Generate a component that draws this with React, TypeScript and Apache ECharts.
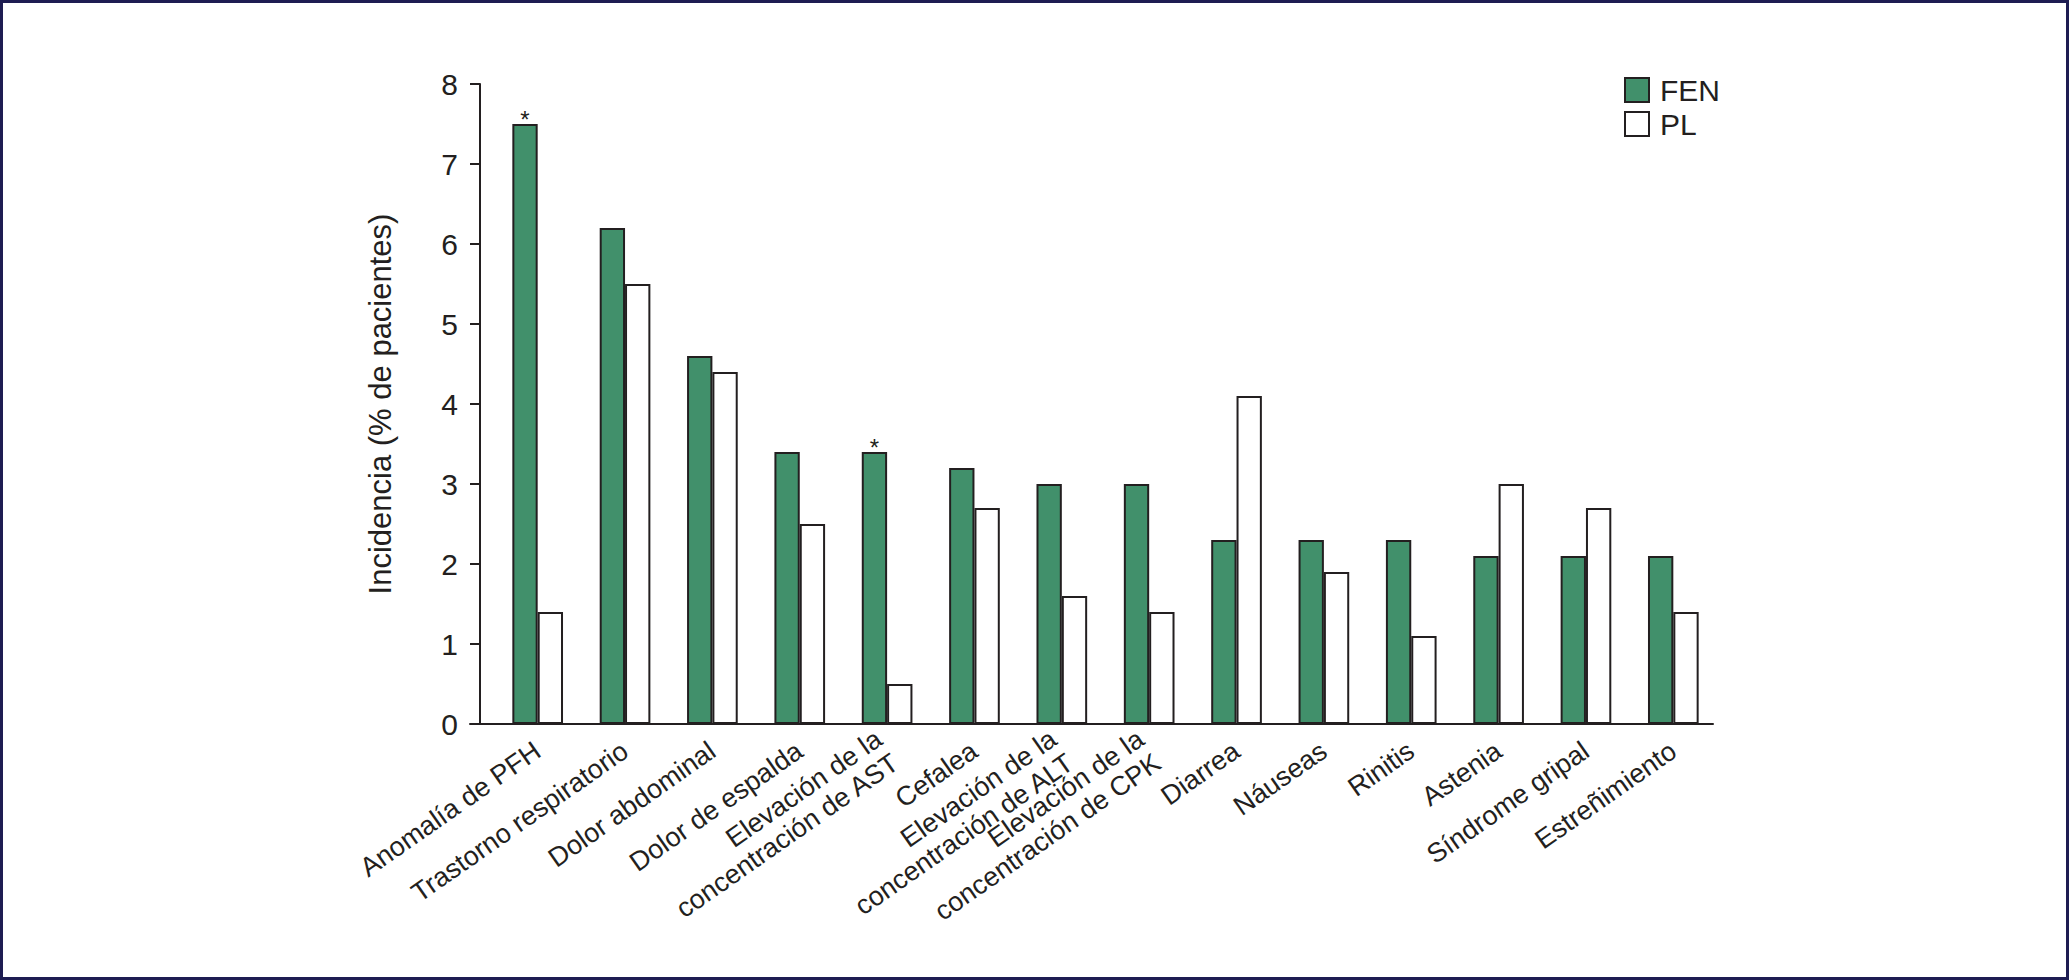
import React, { useEffect, useRef } from "react";
import * as echarts from "echarts";

const categories = [
  "Anomalía de PFH",
  "Trastorno respiratorio",
  "Dolor abdominal",
  "Dolor de espalda",
  "Elevación de la\nconcentración de AST",
  "Cefalea",
  "Elevación de la\nconcentración de ALT",
  "Elevación de la\nconcentración de CPK",
  "Diarrea",
  "Náuseas",
  "Rinitis",
  "Astenia",
  "Síndrome gripal",
  "Estreñimiento",
];
const fenValues = [7.5, 6.2, 4.6, 3.4, 3.4, 3.2, 3.0, 3.0, 2.3, 2.3, 2.3, 2.1, 2.1, 2.1];
const plValues = [1.4, 5.5, 4.4, 2.5, 0.5, 2.7, 1.6, 1.4, 4.1, 1.9, 1.1, 3.0, 2.7, 1.4];
const significant = [true, false, false, false, true, false, false, false, false, false, false, false, false, false];
const yTicks = { min: 0, max: 8, interval: 1 };

const FONT = "'Liberation Sans', Arial, Helvetica, sans-serif";
const INK = "#231f20";
const GREEN = "#41906b";

export default function App() {
  const ref = useRef<HTMLDivElement>(null);
  useEffect(() => {
    if (!ref.current) return;
    const chart = echarts.init(ref.current, null, { renderer: "svg" });
    chart.setOption({
      animation: false,
      backgroundColor: "#ffffff",
      textStyle: { fontFamily: FONT, color: INK },
      graphic: [
        {
          type: "rect",
          shape: { x: 1.5, y: 1.5, width: 2066, height: 977 },
          style: { fill: "none", stroke: "#1e1d52", lineWidth: 3 },
          silent: true,
        },
      ],
      legend: {
        orient: "vertical",
        left: 1619,
        top: 70,
        itemWidth: 24,
        itemHeight: 24,
        itemGap: 4,
        icon: "rect",
        textStyle: { fontSize: 30, color: INK, fontFamily: FONT, padding: [0, 0, 0, 6] },
        data: ["FEN", "PL"],
      },
      grid: [
        { left: 494, right: 352, top: 84, bottom: 256, containLabel: false },
        { left: 470, right: 356, top: 84, bottom: 256, containLabel: false },
      ],
      xAxis: [
        {
          type: "category",
          gridIndex: 0,
          data: categories,
          axisLine: { show: false },
          axisTick: { show: false },
          axisLabel: {
            rotate: 35,
            interval: 0,
            margin: 24,
            fontSize: 27,
            lineHeight: 29,
            color: INK,
            fontFamily: FONT,
          },
        },
        {
          type: "value",
          gridIndex: 1,
          min: 0,
          max: 1,
          axisLine: { show: true, onZero: false, lineStyle: { color: INK, width: 2 } },
          axisTick: { show: false },
          axisLabel: { show: false },
          splitLine: { show: false },
        },
      ],
      yAxis: [
        {
          type: "value",
          gridIndex: 0,
          min: yTicks.min,
          max: yTicks.max,
          interval: yTicks.interval,
          offset: 14,
          name: "Incidencia (% de pacientes)",
          nameLocation: "middle",
          nameGap: 84,
          nameTextStyle: { fontSize: 31, color: INK, fontFamily: FONT },
          axisLine: { show: true, lineStyle: { color: INK, width: 2 } },
          axisTick: { show: true, length: 10, lineStyle: { color: INK, width: 2 } },
          axisLabel: { fontSize: 30, margin: 22, color: INK, fontFamily: FONT },
          splitLine: { show: false },
        },
        {
          type: "value",
          gridIndex: 1,
          show: false,
          min: 0,
          max: 1,
        },
      ],
      series: [
        {
          name: "FEN",
          type: "bar",
          xAxisIndex: 0,
          yAxisIndex: 0,
          barGap: "0%",
          barCategoryGap: "42%",
          itemStyle: { color: GREEN, borderColor: INK, borderWidth: 2 },
          data: fenValues.map((v, i) => ({
            value: v,
            label: significant[i]
              ? { show: true, position: "top", distance: -7, formatter: "*", fontSize: 24, color: INK, fontFamily: FONT }
              : { show: false },
          })),
        },
        {
          name: "PL",
          type: "bar",
          xAxisIndex: 0,
          yAxisIndex: 0,
          barGap: "0%",
          barCategoryGap: "42%",
          itemStyle: { color: "#ffffff", borderColor: INK, borderWidth: 2 },
          data: plValues,
        },
      ],
    });
    return () => chart.dispose();
  }, []);
  return (
    <div
      ref={ref}
      style={{ position: "absolute", left: 0, top: 0, width: 2069, height: 980 }}
    />
  );
}
